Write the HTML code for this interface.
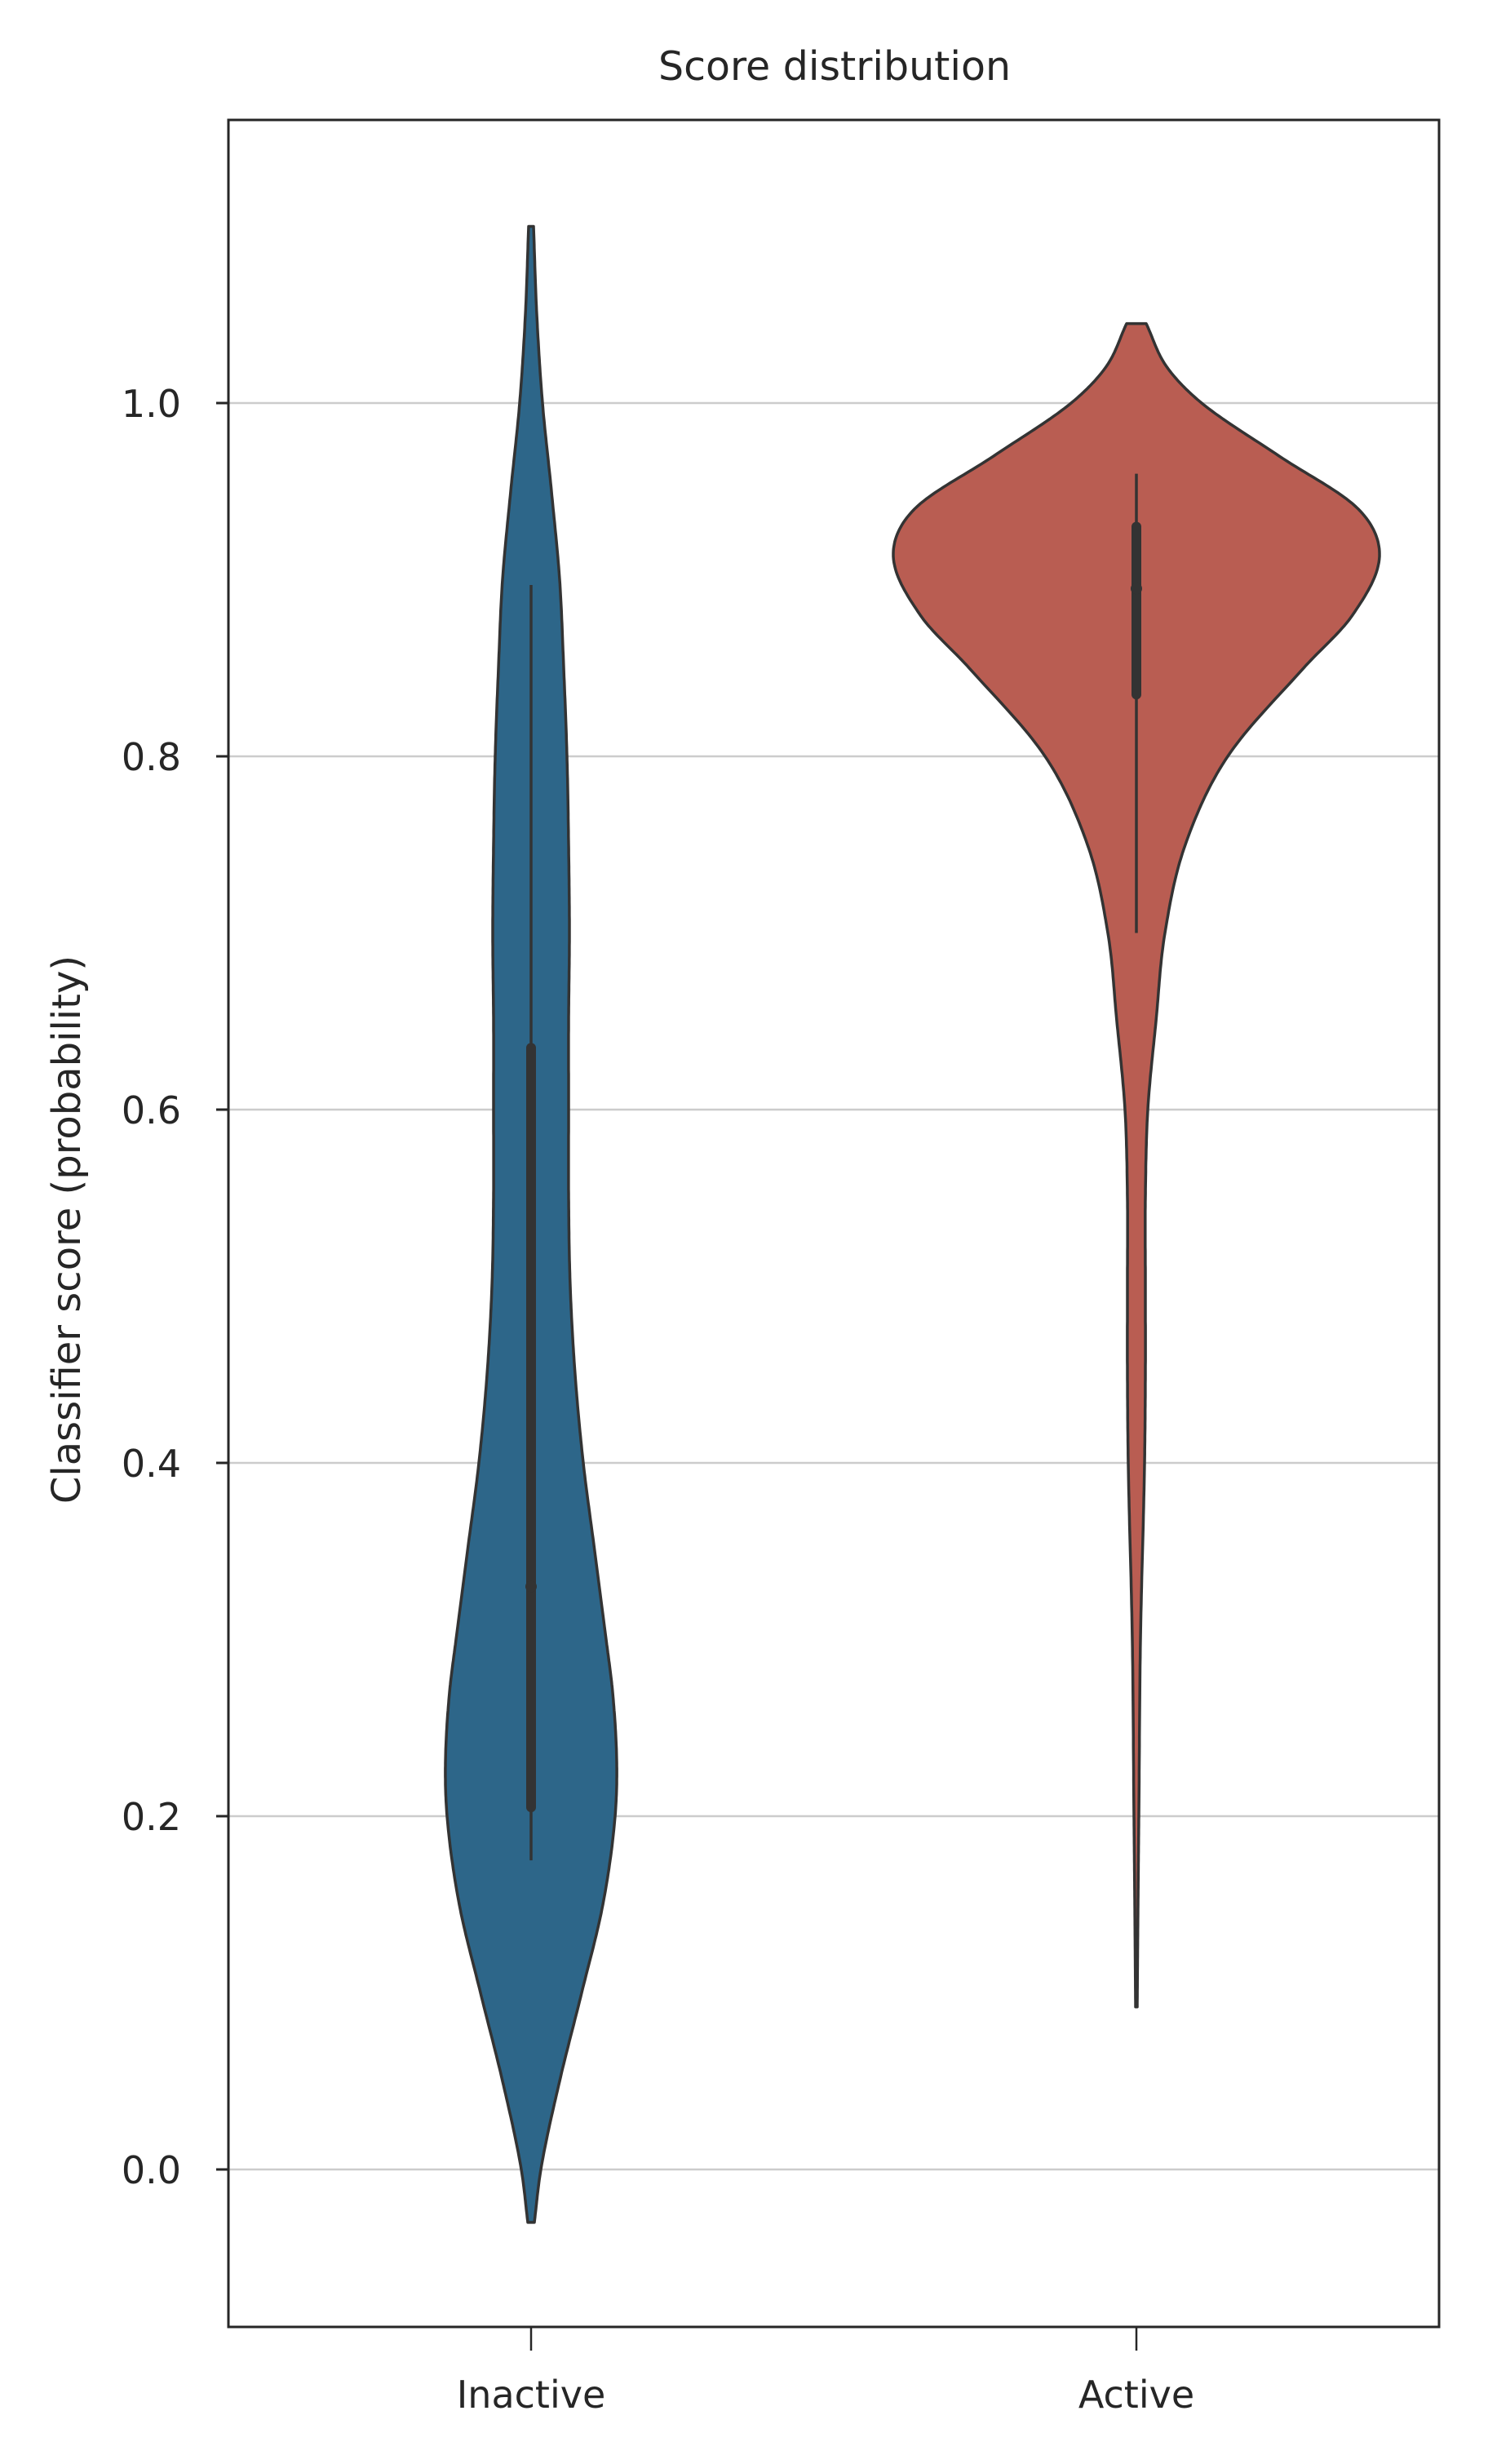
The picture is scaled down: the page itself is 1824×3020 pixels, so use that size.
<!DOCTYPE html>
<html><head><meta charset="utf-8"><style>
html,body{margin:0;padding:0;background:#fff;}
svg{display:block;font-family:"DejaVu Sans","Liberation Sans",sans-serif;}
</style></head><body>
<svg id="chart" width="1824" height="3020" viewBox="0 0 1824 3020" xmlns="http://www.w3.org/2000/svg">
<rect x="0" y="0" width="1824" height="3020" fill="#fff"/>
<text x="1023" y="98" font-size="49" fill="#262626" text-anchor="middle">Score distribution</text>
<g id="grid"></g>
<g id="violins"></g>
<rect x="280" y="147" width="1484" height="2705" fill="none" stroke="#262626" stroke-width="3"/>
<g id="yaxis"></g>
<g id="xaxis"></g>
<text transform="translate(98,1507) rotate(-90)" font-size="48" fill="#262626" text-anchor="middle">Classifier score (probability)</text>
</svg>
<script>
const categories = ["Inactive", "Active"];
const colors = ["#2d6689", "#b95d52"];
const yTicks = [0.0, 0.2, 0.4, 0.6, 0.8, 1.0];
const yTickLabels = ["0.0", "0.2", "0.4", "0.6", "0.8", "1.0"];
// density profiles: score values and relative half-widths
const inactiveVals = [-0.03, 0.0, 0.05, 0.1, 0.15, 0.2, 0.23, 0.27, 0.3, 0.35, 0.4, 0.45, 0.5, 0.55, 0.6, 0.65, 0.7, 0.75, 0.8, 0.85, 0.9, 0.95, 1.0, 1.05, 1.1];
const inactiveDens = [4, 12, 35, 62, 88, 103, 105, 100, 92, 78, 64, 54, 48, 46, 46, 46, 47, 46, 44, 40, 35, 25, 14, 7, 3];
const activeVals = [0.092, 0.15, 0.2, 0.3, 0.4, 0.45, 0.5, 0.55, 0.6, 0.65, 0.7, 0.75, 0.8, 0.85, 0.88, 0.915, 0.94, 0.97, 1.0, 1.02, 1.045];
const activeDens = [1, 2, 3, 5, 10, 11, 11, 11, 14, 24, 35, 60, 112, 205, 265, 298, 272, 175, 80, 38, 12];
// box stats: whisker low, q1, median, q3, whisker high
const inactiveBox = [0.175, 0.205, 0.33, 0.635, 0.897];
const activeBox = [0.70, 0.835, 0.895, 0.93, 0.96];

const NS = "http://www.w3.org/2000/svg";
const Y0 = 2659, UNIT = 2165, XL = 280, XR = 1764;
function yScale(v){ return Y0 - v*UNIT; }
function xScale(i){ return XL + (XR-XL)*(i+0.5)/categories.length; }
function mk(tag, attrs, parent){ const e=document.createElementNS(NS,tag); for(const k in attrs) e.setAttribute(k,attrs[k]); parent.appendChild(e); return e; }

const grid = document.getElementById("grid");
const yaxis = document.getElementById("yaxis");
yTicks.forEach((t,i)=>{
  const y = yScale(t);
  const g = mk("line",{x1:XL,x2:XR,y1:y,y2:y,stroke:"#cccccc","stroke-width":2.5},grid);
  
  
  const tk = mk("line",{x1:XL-15,x2:XL,y1:y,y2:y,stroke:"#262626","stroke-width":3},yaxis);
  
  
  const tx = mk("text",{x:XL-58,y:y+17,"font-size":46,fill:"#262626","text-anchor":"end"},yaxis);
  tx.textContent = yTickLabels[i];
  
  
});

const xaxis = document.getElementById("xaxis");
categories.forEach((c,i)=>{
  const x = xScale(i);
  const tk = mk("line",{x1:x,x2:x,y1:2852,y2:2881,stroke:"#262626","stroke-width":2.5},xaxis);
  
  
  const tx = mk("text",{x:x,y:2951,"font-size":46,fill:"#262626","text-anchor":"middle"},xaxis);
  tx.textContent = c;
  
  
});

// Hermite interpolation in value space (handles uneven spacing smoothly)
function densify(vals, dens){
  const n = vals.length, m = [];
  for(let k=0;k<n;k++){
    if(k===0) m.push((dens[1]-dens[0])/(vals[1]-vals[0]));
    else if(k===n-1) m.push((dens[n-1]-dens[n-2])/(vals[n-1]-vals[n-2]));
    else m.push(((dens[k]-dens[k-1])/(vals[k]-vals[k-1]) + (dens[k+1]-dens[k])/(vals[k+1]-vals[k]))/2);
  }
  const out = [];
  for(let k=0;k<n-1;k++){
    const h = vals[k+1]-vals[k];
    for(let s=0;s<20;s++){
      const t=s/20, t2=t*t, t3=t2*t;
      const w = (2*t3-3*t2+1)*dens[k] + (t3-2*t2+t)*h*m[k] + (-2*t3+3*t2)*dens[k+1] + (t3-t2)*h*m[k+1];
      out.push([vals[k]+t*h, Math.max(0.5,w)]);
    }
  }
  out.push([vals[n-1], dens[n-1]]);
  return out;
}
const violins = document.getElementById("violins");
function drawViolin(i, vals, dens, box, name){
  const cx = xScale(i);
  const pts = densify(vals, dens);
  const right = pts.map(p=>(cx+p[1]).toFixed(1)+","+yScale(p[0]).toFixed(1));
  const left = pts.slice().reverse().map(p=>(cx-p[1]).toFixed(1)+","+yScale(p[0]).toFixed(1));
  const d = "M"+right.join(" L")+" L"+left.join(" L")+" Z";
  const p = mk("path",{d:d,fill:colors[i],stroke:"#333333","stroke-width":3.5,"stroke-linejoin":"round"},violins);
  
  
  const w = mk("line",{x1:cx,x2:cx,y1:yScale(box[0]),y2:yScale(box[4]),stroke:"#333333","stroke-width":3.5},violins);
  
  
  const b = mk("line",{x1:cx,x2:cx,y1:yScale(box[1]),y2:yScale(box[3]),stroke:"#333333","stroke-width":12,"stroke-linecap":"round"},violins);
  
  
  const m = mk("circle",{cx:cx,cy:yScale(box[2]),r:7,fill:"#333333"},violins);
  
  
}
drawViolin(0, inactiveVals, inactiveDens, inactiveBox, "inactive");
drawViolin(1, activeVals, activeDens, activeBox, "active");
</script>
</body></html>
